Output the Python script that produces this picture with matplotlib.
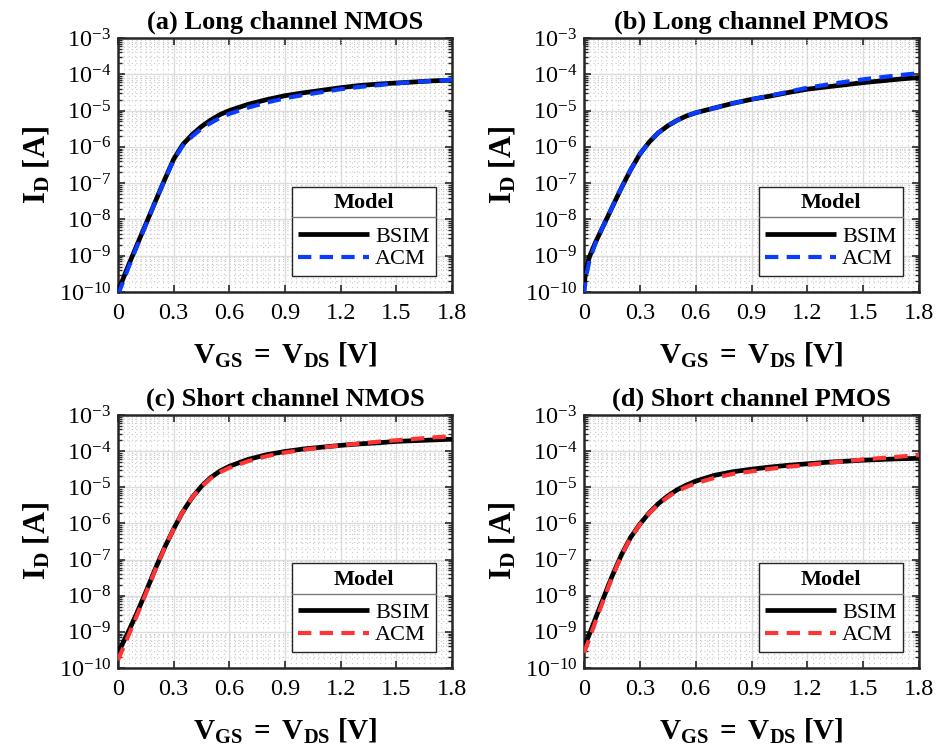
import numpy as np
import matplotlib
matplotlib.use("Agg")
import matplotlib.pyplot as plt
from matplotlib.lines import Line2D
from matplotlib.ticker import (FixedLocator, MultipleLocator, LogLocator,
                               NullFormatter, LogFormatterMathtext)

plt.rcParams.update({
    "font.family": ["Liberation Serif", "DejaVu Serif"],
    "mathtext.fontset": "custom",
    "mathtext.rm": "Liberation Serif",
    "mathtext.it": "Liberation Serif:italic",
    "mathtext.bf": "Liberation Serif:bold",
})

# Gate/drain sweep (V)
vgs = [0, 0.01, 0.03, 0.06, 0.1, 0.15, 0.2, 0.25, 0.3, 0.35, 0.4, 0.45, 0.5,
       0.55, 0.6, 0.7, 0.8, 0.9, 1.0, 1.1, 1.2, 1.3, 1.4, 1.5, 1.6, 1.7, 1.8]

# log10 of drain current (A) for each device / model
long_nmos_bsim = [-9.98, -9.86, -9.6, -9.22, -8.73, -8.13, -7.52, -6.92, -6.34,
                  -5.93, -5.66, -5.44, -5.26, -5.11, -5.0, -4.83, -4.7, -4.59,
                  -4.51, -4.44, -4.37, -4.31, -4.27, -4.24, -4.21, -4.18, -4.16]
long_nmos_acm = [-10.08, -9.95, -9.68, -9.28, -8.77, -8.15, -7.53, -6.93, -6.36,
                 -5.96, -5.71, -5.5, -5.34, -5.2, -5.09, -4.92, -4.78, -4.66,
                 -4.57, -4.49, -4.41, -4.35, -4.3, -4.25, -4.21, -4.18, -4.15]
long_pmos_bsim = [-9.85, -9.38, -9.02, -8.65, -8.22, -7.68, -7.14, -6.64, -6.2,
                  -5.87, -5.61, -5.42, -5.27, -5.15, -5.06, -4.93, -4.8, -4.69,
                  -4.6, -4.5, -4.41, -4.35, -4.29, -4.23, -4.18, -4.13, -4.09]
long_pmos_acm = [-10.1, -9.6, -9.12, -8.68, -8.22, -7.68, -7.14, -6.64, -6.2,
                 -5.87, -5.61, -5.42, -5.27, -5.15, -5.06, -4.93, -4.8, -4.69,
                 -4.59, -4.48, -4.37, -4.29, -4.21, -4.14, -4.08, -4.02, -3.97]
short_nmos_bsim = [-9.58, -9.48, -9.27, -8.95, -8.5, -7.9, -7.27, -6.68, -6.15,
                   -5.67, -5.28, -4.97, -4.73, -4.55, -4.42, -4.23, -4.1, -4.01,
                   -3.94, -3.89, -3.84, -3.8, -3.77, -3.73, -3.71, -3.69, -3.67]
short_nmos_acm = [-9.78, -9.66, -9.42, -9.06, -8.57, -7.94, -7.3, -6.69, -6.15,
                  -5.67, -5.28, -4.98, -4.75, -4.58, -4.46, -4.28, -4.14, -4.04,
                  -3.96, -3.9, -3.84, -3.79, -3.74, -3.7, -3.66, -3.62, -3.59]
short_pmos_bsim = [-9.42, -9.3, -9.05, -8.65, -8.12, -7.47, -6.88, -6.39, -6.02,
                   -5.71, -5.45, -5.24, -5.07, -4.94, -4.83, -4.67, -4.57, -4.5,
                   -4.44, -4.39, -4.35, -4.31, -4.28, -4.25, -4.23, -4.21, -4.2]
short_pmos_acm = [-9.58, -9.45, -9.17, -8.74, -8.18, -7.5, -6.9, -6.4, -6.03,
                  -5.72, -5.47, -5.27, -5.11, -4.99, -4.89, -4.74, -4.63, -4.56,
                  -4.49, -4.43, -4.38, -4.33, -4.28, -4.23, -4.19, -4.15, -4.11]

titles = ["(a) Long channel NMOS", "(b) Long channel PMOS",
          "(c) Short channel NMOS", "(d) Short channel PMOS"]
series = [(long_nmos_bsim, long_nmos_acm), (long_pmos_bsim, long_pmos_acm),
          (short_nmos_bsim, short_nmos_acm), (short_pmos_bsim, short_pmos_acm)]
acm_colors = ["#0a3cff", "#0a3cff", "#ff3535", "#ff3535"]
model_names = ["BSIM", "ACM"]
x_ticks = [0, 0.3, 0.6, 0.9, 1.2, 1.5, 1.8]
x_tick_labels = ["0", "0.3", "0.6", "0.9", "1.2", "1.5", "1.8"]

W, H = 936, 751
fig = plt.figure(figsize=(W / 100, H / 100), dpi=100)

# axes boxes in pixels: (left, top, right, bottom)
boxes = [(118, 38, 452, 292), (584, 38, 919, 292),
         (118, 415, 452, 668), (584, 415, 919, 668)]

edge = "#262626"
legends = []
for box, title, (bsim, acm), col in zip(boxes, titles, series, acm_colors):
    l, t, r, b = box
    ax = fig.add_axes([l / W, 1 - b / H, (r - l) / W, (b - t) / H])
    v = np.array(vgs)
    ax.plot(v, 10 ** np.array(bsim), color="black", lw=3.4,
            solid_capstyle="butt", solid_joinstyle="round",
            label=model_names[0], zorder=3)
    ax.plot(v, 10 ** np.array(acm), color=col, lw=3.0, dashes=(3.2, 2.0),
            label=model_names[1], zorder=4)
    ax.set_yscale("log")
    ax.set_xlim(0, 1.8)
    ax.set_ylim(1e-10, 1e-3)

    ax.xaxis.set_major_locator(FixedLocator(x_ticks))
    ax.set_xticklabels(x_tick_labels)
    ax.xaxis.set_minor_locator(MultipleLocator(0.03))
    ax.yaxis.set_major_locator(LogLocator(base=10, numticks=20))
    ax.yaxis.set_major_formatter(LogFormatterMathtext())
    ax.yaxis.set_minor_locator(LogLocator(base=10, subs=np.arange(2, 10),
                                          numticks=20))
    ax.yaxis.set_minor_formatter(NullFormatter())

    ax.tick_params(which="both", direction="in", top=True, right=True,
                   labelsize=17.5, colors=edge, labelcolor="black")
    ax.tick_params(axis="x", which="major", pad=8)
    ax.tick_params(axis="y", which="major", pad=5)
    ax.tick_params(which="major", length=5, width=1.2)
    ax.tick_params(axis="y", which="minor", length=3, width=1.0)
    ax.tick_params(axis="x", which="minor", length=0)

    ax.grid(True, which="major", color="#dcdcdc", lw=1.0, ls="-", zorder=0)
    ax.grid(True, which="minor", color="#c8c8c8", lw=0.8, ls=(0, (1, 3)),
            zorder=0)
    ax.set_axisbelow(True)
    for s in ax.spines.values():
        s.set_color(edge)
        s.set_linewidth(1.8)

    ax.set_title(title, fontsize=19, fontweight="bold", pad=7)
    ax.set_ylabel(r"$\mathbf{I_D}$ $\mathbf{[A]}$", fontsize=22, labelpad=5)
    ax.set_xlabel(r"$\mathbf{V_{GS}}$ $\mathbf{=}$ $\mathbf{V_{DS}}$ $\mathbf{[V]}$",
                  fontsize=21, labelpad=12)

    leg = ax.legend(loc="lower right", bbox_to_anchor=(0.952, 0.063),
                    borderaxespad=0, title="Model", fontsize=16,
                    title_fontproperties={"weight": "bold", "size": 16},
                    handlelength=3.2, handletextpad=0.25, borderpad=0.3,
                    labelspacing=0.1, fancybox=False, framealpha=1,
                    edgecolor=edge)
    leg.get_frame().set_linewidth(1.0)
    leg._legend_box.sep = 9
    legends.append(leg)

# separator under each legend title
fig.canvas.draw()
renderer = fig.canvas.get_renderer()
inv = fig.transFigure.inverted()
for leg in legends:
    fb = leg.get_frame().get_window_extent(renderer)
    tb = leg.get_title().get_window_extent(renderer)
    y = tb.y0 - 4
    (x0, yf), (x1, _) = inv.transform([(fb.x0, y), (fb.x1, y)])
    fig.add_artist(Line2D([x0, x1], [yf, yf], color="#7a7a7a", lw=1.0,
                          zorder=10))

fig.savefig("out.png", dpi=100, facecolor="white")
